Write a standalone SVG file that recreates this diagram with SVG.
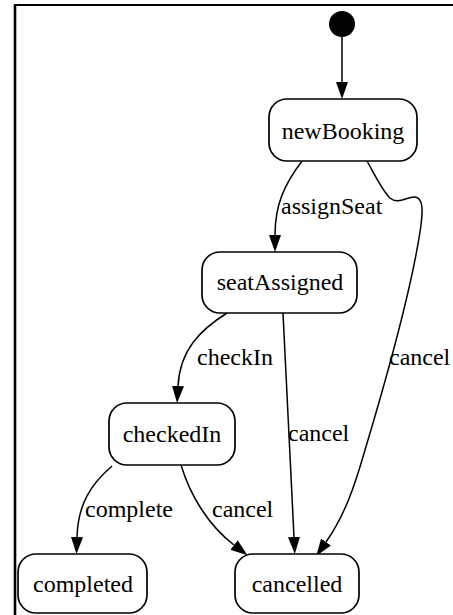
<svg xmlns="http://www.w3.org/2000/svg" width="453" height="615" viewBox="0 0 453 615">
<style>
.node rect{fill:#fff;stroke:#000;stroke-width:1.7}
.node text,.lbl{font-family:"Liberation Serif","Times New Roman",serif;font-size:24px;fill:#000}
.node text{text-anchor:middle}
.edge{fill:none;stroke:#000;stroke-width:1.5}
</style>
<defs>
<marker id="ah" viewBox="0 0 17 12" refX="0" refY="6" markerWidth="17" markerHeight="12" markerUnits="userSpaceOnUse" orient="auto">
<path d="M0,0 L17,6 L0,12 z" fill="#000"/>
</marker>
</defs>
<rect width="453" height="615" fill="#fff"/>
<path d="M15,5 V615" stroke="#000" stroke-width="2.6" fill="none"/>
<path d="M14,5 H453" stroke="#000" stroke-width="2" fill="none"/>
<g id="connectors">
<path class="edge" marker-end="url(#ah)" d="M342,37 L342,82"/>
<path class="edge" marker-end="url(#ah)" d="M302,161 C284,185 275,205 275,235"/>
<path class="edge" marker-end="url(#ah)" d="M367,161 C375,175 382,190 390,198 C398,205 408,196 415,197 C423,198 423,210 421,225 C412,290 383,390 365,450 C355,485 345,515 326,542"/>
<path class="edge" marker-end="url(#ah)" d="M227,313 C200,330 180,350 178,386"/>
<path class="edge" marker-end="url(#ah)" d="M283,313 L294,537"/>
<path class="edge" marker-end="url(#ah)" d="M112,466 C90,485 78,505 77,537"/>
<path class="edge" marker-end="url(#ah)" d="M181,465 C190,495 208,525 234,545"/>
<text class="lbl" x="281" y="214">assignSeat</text>
<text class="lbl" x="389" y="365">cancel</text>
<text class="lbl" x="197" y="365">checkIn</text>
<text class="lbl" x="288" y="441">cancel</text>
<text class="lbl" x="85" y="517">complete</text>
<text class="lbl" x="212" y="517">cancel</text>
</g>
<g id="initial"><circle cx="342" cy="24" r="13" fill="#000"/></g>
<g id="newBooking" class="node"><rect x="269" y="99" width="148" height="62" rx="18"/><text x="343" y="139">newBooking</text></g>
<g id="seatAssigned" class="node"><rect x="202" y="252" width="155" height="61" rx="18"/><text x="280" y="290">seatAssigned</text></g>
<g id="checkedIn" class="node"><rect x="109" y="403" width="126" height="62" rx="18"/><text x="172" y="442">checkedIn</text></g>
<g id="completed" class="node"><rect x="18" y="554" width="129" height="59" rx="18"/><text x="83" y="592">completed</text></g>
<g id="cancelled" class="node"><rect x="235" y="554" width="124" height="59" rx="18"/><text x="297" y="592">cancelled</text></g>
</svg>
